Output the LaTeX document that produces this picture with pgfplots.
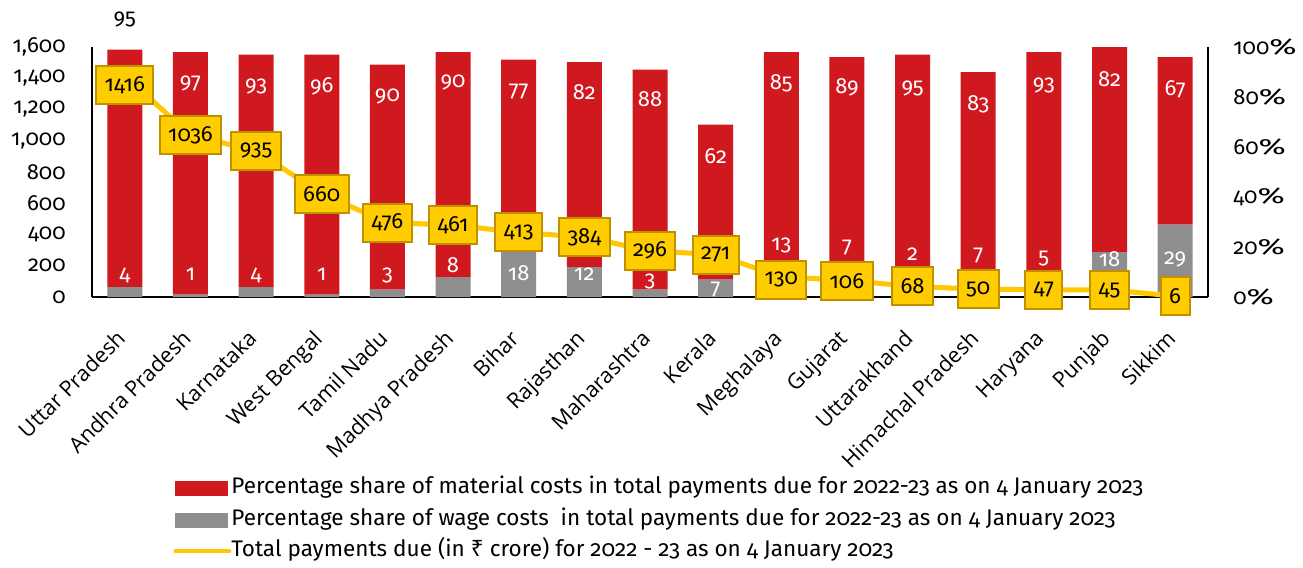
\documentclass[border=0pt]{standalone}
\usepackage{fontspec}
\setmainfont{Fira Sans}[Numbers=OldStyle]
\newfontfamily\xfont{Open Sans}
\newfontfamily\rupeefont{Noto Sans}
\usepackage{graphicx}
\usepackage{pgfplots}
\usepackage{pgfplotstable}
\pgfplotsset{compat=1.18}
\pgfplotsset{/pgf/number format/assume math mode=true}
\definecolor{redc}{RGB}{208,25,31}
\definecolor{grayc}{RGB}{142,142,142}
\definecolor{linec}{RGB}{255,200,0}
\definecolor{boxfill}{RGB}{255,204,0}
\definecolor{boxborder}{RGB}{191,144,0}
\newcommand{\pct}{\scalebox{1.5}[1]{\%}}

\pgfplotstableread{
x mat wage tot matlab wagelab totlab
0 95 4 1416 110.9 8.8 1357
1 97 1 1036 85.5 9.2 1036
2 93 4 935 84.4 8.8 935
3 96 1 660 84.4 9.2 660
4 90 3 476 80.4 8.8 476
5 90 8 461 85.7 12.8 461
6 77 18 413 82.0 9.6 413
7 82 12 384 82.1 9.2 384
8 88 3 296 79.2 6.1 296
9 62 7 271 56.4 2.8 271
10 85 13 130 85.5 20.8 110
11 89 7 106 83.7 19.6 102
12 95 2 68 83.5 17.2 68
13 83 7 50 77.2 16.4 50
14 93 5 47 84.8 15.2 47
15 82 18 45 87.1 15.2 45
16 67 29 6 83.1 15.2 6
}\data

\pgfplotstableread{
x mat matlab
1 97 85.5
2 93 84.4
3 96 84.4
4 90 80.4
5 90 85.7
6 77 82.0
7 82 82.1
8 88 79.2
9 62 56.4
10 85 85.5
11 89 83.7
12 95 83.5
13 83 77.2
14 93 84.8
15 82 87.1
16 67 83.1
}\matlabels

\pgfplotsset{
  base/.style={
    at={(0,0)}, anchor=south west,
    scale only axis, width=558pt, height=125pt,
    xmin=-0.5, xmax=16.5,
    major tick length=0pt,
    axis line style={line width=1pt, black},
    tick label style={font=\fontsize{11}{13}\selectfont},
  }
}

\begin{document}
\begin{tikzpicture}
\path[use as bounding box] (-46pt,-135.5pt) rectangle (605.5pt,148.5pt);

% bars (right axis, percent)
\begin{axis}[base,
  ybar stacked, bar width=17.5pt,
  ymin=0, ymax=100,
  axis x line*=bottom, axis y line*=right,
  ytick={0,20,...,100},
  yticklabel={\pgfmathprintnumber{\tick}\pct},
  yticklabel style={inner sep=0pt, xshift=12.5pt},
  xtick={0,...,16},
  xticklabels={Uttar Pradesh, Andhra Pradesh, Karnataka, West Bengal, Tamil Nadu, Madhya Pradesh, Bihar, Rajasthan, Maharashtra, Kerala, Meghalaya, Gujarat, Uttarakhand, Himachal Pradesh, Haryana, Punjab, Sikkim},
  xticklabel style={font=\xfont\fontsize{10.8}{13}\selectfont, rotate=45, anchor=north east, inner sep=0pt, xshift=-14.5pt, yshift=-7.5pt},
]
\addplot[fill=grayc, draw=none] table[x=x, y=wage] {\data};
\addplot[fill=redc, draw=none] table[x=x, y=mat] {\data};
\end{axis}

% bar labels
\begin{axis}[base, hide axis, clip=false, ymin=0, ymax=100]
\addplot[draw=none, mark=none, nodes near coords, point meta=explicit symbolic,
  nodes near coords align={center},
  nodes near coords style={text=white, font=\fontsize{11}{13}\selectfont, inner sep=0pt}]
  table[x=x, y=matlab, meta=mat] {\matlabels};
\addplot[draw=none, mark=none, nodes near coords, point meta=explicit symbolic,
  nodes near coords align={center},
  nodes near coords style={text=black, font=\fontsize{11}{13}\selectfont, inner sep=0pt}]
  coordinates {(0,110.9) [95]};
\addplot[draw=none, mark=none, nodes near coords, point meta=explicit symbolic,
  nodes near coords align={center},
  nodes near coords style={text=white, font=\fontsize{11}{13}\selectfont, inner sep=0pt}]
  table[x=x, y=wagelab, meta=wage] {\data};
\end{axis}

% line (left axis)
\begin{axis}[base, clip=false,
  ymin=0, ymax=1600,
  axis y line*=left, axis x line=none,
  ytick={0,200,...,1600},
  scaled y ticks=false,
  yticklabel style={inner sep=0pt, xshift=-13pt, /pgf/number format/1000 sep={,}},
  legend style={at={(axis description cs:0.0726,-0.722)}, anchor=north west,
    draw=none, fill=none, inner sep=0pt, row sep=5.25pt, column sep=0pt,
    nodes={inner sep=0pt, text height=8pt, text depth=2.5pt},
    font=\fontsize{11.27}{13}\selectfont},
  legend cell align=left,
]
\addlegendimage{legend image code/.code={\fill[redc] (0pt,-3.5pt) rectangle (26pt,3.5pt);}}
\addlegendentry{Percentage share of material costs in total payments due for 2022-23 as on 4 January 2023}
\addlegendimage{legend image code/.code={\fill[grayc] (0pt,-3.5pt) rectangle (26pt,3.5pt);}}
\addlegendentry{Percentage share of wage costs\ \ in total payments due for 2022-23 as on 4 January 2023}
\addplot[color=linec, line width=2.5pt, mark=none,
  legend image code/.code={\draw[linec, line width=2pt, line cap=round] (0pt,0pt) -- (27pt,0pt);}]
  table[x=x, y=tot] {\data};
\addlegendentry{Total payments due (in {\rupeefont ₹} crore) for 2022 - 23 as on 4 January 2023}
\addplot[draw=none, mark=none, forget plot, nodes near coords, point meta=explicit symbolic,
  nodes near coords align={center},
  nodes near coords style={text=black, fill=boxfill, draw=boxborder, line width=1pt,
    minimum height=19pt, inner xsep=4.2pt, inner ysep=0pt, font=\fontsize{11}{13}\selectfont}]
  table[x=x, y=totlab, meta=tot] {\data};
\end{axis}
\end{tikzpicture}
\end{document}
